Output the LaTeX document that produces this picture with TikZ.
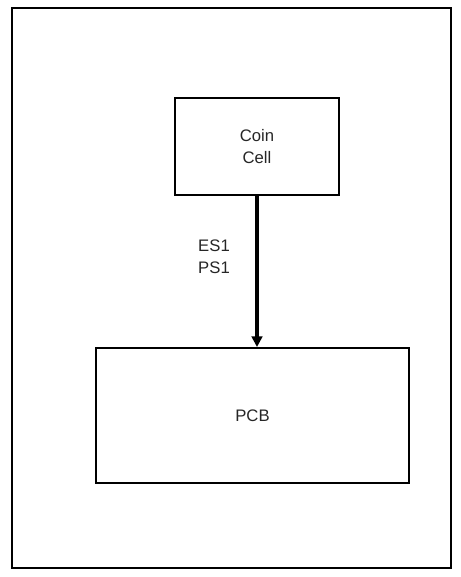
\documentclass[tikz,border=0pt]{standalone}
\usepackage{fontspec}
\setmainfont{Liberation Sans}
\usetikzlibrary{arrows.meta,positioning}

\begin{document}
\begin{tikzpicture}[x=0.02cm,y=-0.02cm,>={Triangle[length=6pt,width=6pt]},
  txt/.style={text=black!85,font=\fontsize{9.5}{12.5}\selectfont},
  blk/.style={draw,line width=1.3pt,txt,align=center}]
  \useasboundingbox (0,0) rectangle (460,577);
  % frame
  \draw[line width=1.6pt] (12,8) rectangle (451,568);
  \node[blk,minimum width=3.28cm,minimum height=1.94cm] (coin) at (257,146.5) {Coin\\Cell};
  \node[blk,minimum width=6.26cm,minimum height=2.7cm] (pcb) at (252.5,415.5) {PCB};
  \coordinate (tip) at (257,347);
  \draw[->,line width=2pt] (coin.south -| tip) -- (tip);
  \node[txt,align=left,anchor=east] (lbl) at (236,257) {ES1\\PS1};
\end{tikzpicture}
\end{document}
